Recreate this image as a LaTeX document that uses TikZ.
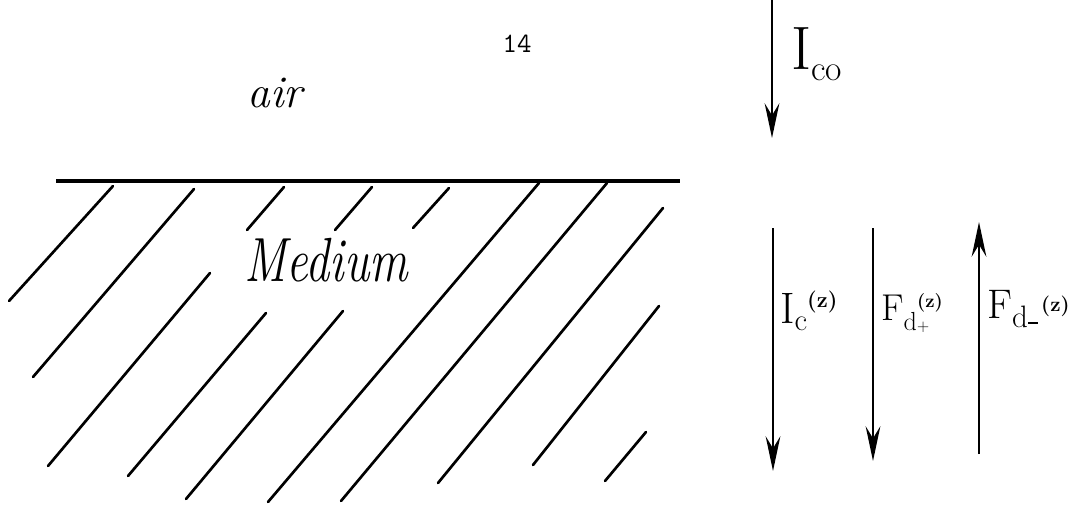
\documentclass[tikz,border=0pt]{standalone}
\usepackage{graphicx}
\usetikzlibrary{arrows.meta}
\newcommand\shift[3]{\raisebox{#1}{\scalebox{#2}{#3}}}
\begin{document}
\begin{tikzpicture}[x=0.75pt,y=-0.75pt,
  hatch/.style={line width=2pt,line cap=round},
  surface/.style={line width=3pt},
  flux/.style={line width=2.2pt,-{Stealth[length=26pt,width=11pt,inset=9pt]}},
  lbl/.style={inner sep=0pt,anchor=base west},
  hand/.style={inner sep=0pt,anchor=base,font=\itshape\fontsize{34}{40}\selectfont}]
\useasboundingbox (0,0) rectangle (1068,507);
% interface
\coordinate (s1) at (56,181);
\coordinate (s2) at (680,181);
\draw[surface] (s1) -- (s2);
% hatching
\draw[hatch] (113,186) -- (9,301);
\draw[hatch] (194,189) -- (33,377);
\draw[hatch] (284,187) -- (247,230);
\draw[hatch] (372,187) -- (335,230);
\draw[hatch] (449,188) -- (413,228);
\draw[hatch] (539,183) -- (268,502);
\draw[hatch] (607,183) -- (341,501);
\draw[hatch] (663,208) -- (438,483);
\draw[hatch] (210,273) -- (48,466);
\draw[hatch] (266,313) -- (128,476);
\draw[hatch] (343,311) -- (186,499);
\draw[hatch] (659,306) -- (533,465);
\draw[hatch] (646,432) -- (605,481);
% texts
\node[inner sep=0pt,font=\ttfamily\fontsize{21}{24}\selectfont] (page) at (517,44) {14};
\node[hand] (air) at (275,107) {air};
\node[hand,font=\itshape\fontsize{36}{42}\selectfont,yscale=1.3] (medium) at (326,281) {Medium};
% fluxes
\coordinate (a1) at (772,0);
\coordinate (a2) at (772,138);
\draw[flux] (a1) -- (a2);
\node[lbl,font=\fontsize{46}{52}\selectfont] (ico) at (791,69)
  {I\shift{-0.18em}{0.58}{co}};
\coordinate (b1) at (773,228);
\coordinate (b2) at (773,471);
\draw[flux] (b1) -- (b2);
\node[lbl,font=\fontsize{33}{38}\selectfont] (ic) at (780,323)
  {I\shift{-0.16em}{0.7}{c}\shift{0.35em}{0.5}{\bfseries(z)}};
\coordinate (c1) at (873,228);
\coordinate (c2) at (873,461);
\draw[flux] (c1) -- (c2);
\node[lbl,font=\fontsize{28}{32}\selectfont] (fdp) at (881,320)
  {F\shift{-0.27em}{0.7}{d}\rlap{\shift{0.34em}{0.5}{\bfseries(z)}}\shift{-0.32em}{0.45}{+}};
\coordinate (d1) at (979,454);
\coordinate (d2) at (979,222);
\draw[flux] (d1) -- (d2);
\node[lbl,font=\fontsize{31}{36}\selectfont] (fdm) at (987,318)
  {F\shift{-0.24em}{0.75}{d}\rule[-0.145em]{0.24em}{0.05em}\kern0.08em\shift{0.15em}{0.5}{\bfseries(z)}};
\end{tikzpicture}
\end{document}
